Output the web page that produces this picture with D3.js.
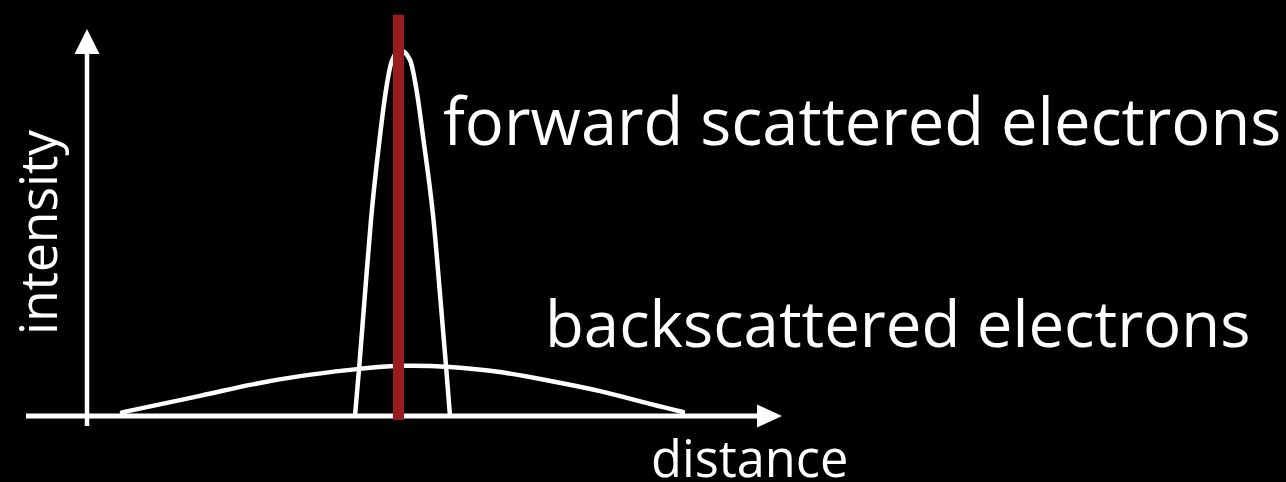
<!DOCTYPE html>
<html>
<head>
<meta charset="utf-8">
<script src="https://cdn.jsdelivr.net/npm/d3@7"></script>
<style>
  html, body { margin: 0; padding: 0; background: #000; }
  svg { display: block; }
  text { font-family: "Open Sans", "DejaVu Sans", sans-serif; fill: #fff; }
</style>
</head>
<body>
<svg id="chart" width="1286" height="482"></svg>
<script>
// Distance from the beam centre (arbitrary units) and relative intensity.
const forwardDistance  = [-0.45, -0.407, -0.355, -0.29, -0.205, -0.14, -0.085, 0, 0.10, 0.165, 0.235, 0.335, 0.405, 0.46, 0.50];
const forwardIntensity = [0, 0.137, 0.317, 0.536, 0.754, 0.891, 0.967, 1.0, 0.973, 0.891, 0.754, 0.536, 0.317, 0.137, 0];

const backDistance  = [-2.78, -2.0, -1.5, -1.0, -0.5, 0, 0.5, 1.0, 1.5, 2.0, 2.5, 2.83];
const backIntensity = [0.01, 0.055, 0.085, 0.109, 0.126, 0.137, 0.134, 0.120, 0.096, 0.068, 0.033, 0.011];

// Position of the incident beam.
const beamDistance = -0.015;

const labels = {
  forward: "forward scattered electrons",
  back: "backscattered electrons",
  xAxis: "distance",
  yAxis: "intensity"
};

const svg = d3.select("#chart");
svg.append("rect").attr("width", 1286).attr("height", 482).attr("fill", "#000");

const x = d3.scaleLinear().domain([-3.13, 3.82]).range([87, 782]);
const y = d3.scaleLinear().domain([0, 1]).range([416, 50]);

const lineFor = curve => d3.line()
  .x(d => x(d[0]))
  .y(d => y(d[1]))
  .curve(curve);

const backData = backDistance.map((d, i) => [d, backIntensity[i]]);
const forwardData = forwardDistance.map((d, i) => [d, forwardIntensity[i]]);

// Broad backscattered distribution
svg.append("path")
  .datum(backData)
  .attr("d", lineFor(d3.curveNatural))
  .attr("fill", "none")
  .attr("stroke", "#fff")
  .attr("stroke-width", 4.5)
  .attr("stroke-linecap", "round");

// Narrow forward-scattered peak
svg.append("path")
  .datum(forwardData)
  .attr("d", lineFor(d3.curveMonotoneX))
  .attr("fill", "none")
  .attr("stroke", "#fff")
  .attr("stroke-width", 4.5);

// Axes with arrowheads
const [x0, x1] = x.range();
const [yBase, yTop] = [y(0), y(1)];
const axisG = svg.append("g").attr("fill", "#fff").attr("stroke", "#fff");

const xTip = x1, xHead = 25, xHalf = 11.5;
axisG.append("line")
  .attr("x1", x0 - 61).attr("x2", xTip - xHead + 1)
  .attr("y1", yBase).attr("y2", yBase)
  .attr("stroke-width", 5);
axisG.append("path")
  .attr("stroke", "none")
  .attr("d", `M${xTip},${yBase} L${xTip - xHead},${yBase - xHalf} L${xTip - xHead},${yBase + xHalf} Z`);

const yTip = yTop - 21, yHead = 25, yHalf = 12.5;
axisG.append("line")
  .attr("x1", x0).attr("x2", x0)
  .attr("y1", yBase + 10).attr("y2", yTip + yHead - 1)
  .attr("stroke-width", 4.5);
axisG.append("path")
  .attr("stroke", "none")
  .attr("d", `M${x0},${yTip} L${x0 - yHalf},${yTip + yHead} L${x0 + yHalf},${yTip + yHead} Z`);

// Incident beam
svg.append("line")
  .attr("x1", x(beamDistance)).attr("x2", x(beamDistance))
  .attr("y1", y(1.096)).attr("y2", y(-0.011))
  .attr("stroke", "#9b1c1c")
  .attr("stroke-width", 11);

// Labels
svg.append("text")
  .attr("x", 443).attr("y", 145)
  .attr("font-size", 65)
  .text(labels.forward);

svg.append("text")
  .attr("x", 545).attr("y", 347)
  .attr("font-size", 63.5)
  .text(labels.back);

svg.append("text")
  .attr("x", 651).attr("y", 477)
  .attr("font-size", 50.5)
  .text(labels.xAxis);

svg.append("text")
  .attr("transform", "translate(57,335) rotate(-90)")
  .attr("font-size", 51.5)
  .text(labels.yAxis);
</script>
</body>
</html>
